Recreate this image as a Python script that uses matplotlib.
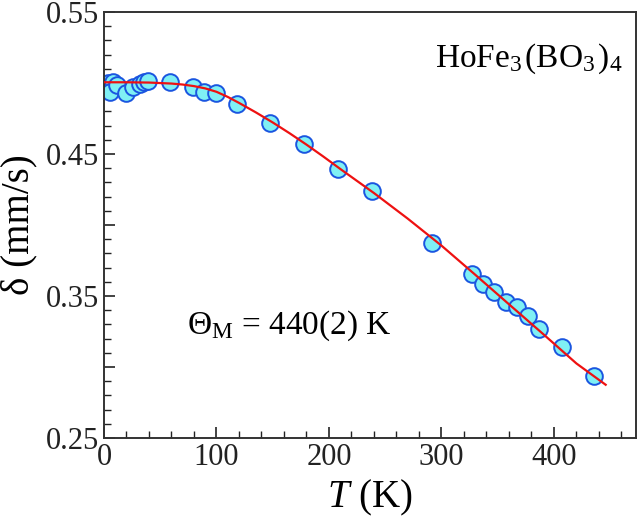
import matplotlib
matplotlib.use("Agg")
import matplotlib.pyplot as plt
from matplotlib.ticker import MultipleLocator, FuncFormatter

plt.rcParams['font.family'] = ['Liberation Serif', 'DejaVu Serif']
plt.rcParams['mathtext.fontset'] = 'custom'
plt.rcParams['mathtext.rm'] = 'Liberation Serif'
plt.rcParams['mathtext.it'] = 'Liberation Serif:italic'

# Measured isomer shift
T_data = [3.5, 8, 5, 11.5, 19.5, 26, 32, 36, 39, 59, 79, 89, 100, 118,
          148, 178, 208, 238, 292, 327, 337, 347, 357, 367, 377, 387, 407, 436]
d_data = [0.500, 0.5007, 0.494, 0.4986, 0.493, 0.497, 0.4993, 0.5007, 0.5014,
          0.5007, 0.497, 0.4937, 0.493, 0.485,
          0.472, 0.4568, 0.4394, 0.4239, 0.3875, 0.3655, 0.3584, 0.353,
          0.3456, 0.3425, 0.3361, 0.3268, 0.3139, 0.2937]

# Fit curve
T_fit = [0, 20, 40, 60, 70, 80, 90, 100, 110, 120, 135, 150, 165, 180, 195, 210,
         225, 240, 270, 300, 330, 360, 390, 420, 446]
d_fit = [0.5005, 0.5005, 0.5003, 0.4996, 0.4989, 0.4978, 0.4962, 0.4938, 0.4902,
         0.4860, 0.4793, 0.4722, 0.4646, 0.4566, 0.4482, 0.4395,
         0.4310, 0.4225, 0.4045, 0.3855, 0.3650, 0.3442, 0.3235, 0.3025, 0.2875]

fig = plt.figure(figsize=(6.4, 5.21), dpi=100)
ax = fig.add_axes([0.1625, 0.1593, 0.8313, 0.8177])

ax.plot(T_fit, d_fit, color='#ee1111', lw=1.6, zorder=3)
ax.plot(T_data, d_data, 'o', ms=12, mfc='#7ff0f4', mec='#1a55e0', mew=1.4, zorder=2)

ax.set_xlim(0, 473)
ax.set_ylim(0.25, 0.55)
ax.xaxis.set_major_locator(MultipleLocator(100))
ax.xaxis.set_minor_locator(MultipleLocator(20))
ax.yaxis.set_major_locator(MultipleLocator(0.05))
ax.yaxis.set_minor_locator(MultipleLocator(0.01))

def yfmt(v, pos):
    k = round(v * 100)
    if k % 10 == 5:
        return f"{v:.2f}"
    return ""
ax.yaxis.set_major_formatter(FuncFormatter(yfmt))
ax.xaxis.set_major_formatter(FuncFormatter(lambda v, p: f"{int(round(v))}"))

ax.tick_params(which='both', direction='in', top=False, right=False,
               labelsize=22, colors='#222222')
ax.tick_params(which='major', length=8, width=1.2)
ax.tick_params(which='minor', length=5, width=1.0)
for s in ax.spines.values():
    s.set_color('#333333')
    s.set_linewidth(1.4)

ax.set_xlabel(r'$\mathit{T}$ (K)', fontsize=28, labelpad=4)
ax.set_ylabel('δ (mm/s)', fontsize=28, labelpad=6)

ax.text(0.975, 0.93, r'HoFe$_{3\,}$(BO$_{3\,}$)$_4$', transform=ax.transAxes,
        ha='right', va='top', fontsize=24)
ax.text(0.156, 0.263, r'$\Theta_{\mathrm{M}}$ = 440(2) K', transform=ax.transAxes,
        ha='left', va='center', fontsize=24)

fig.savefig('out.png', dpi=100)
